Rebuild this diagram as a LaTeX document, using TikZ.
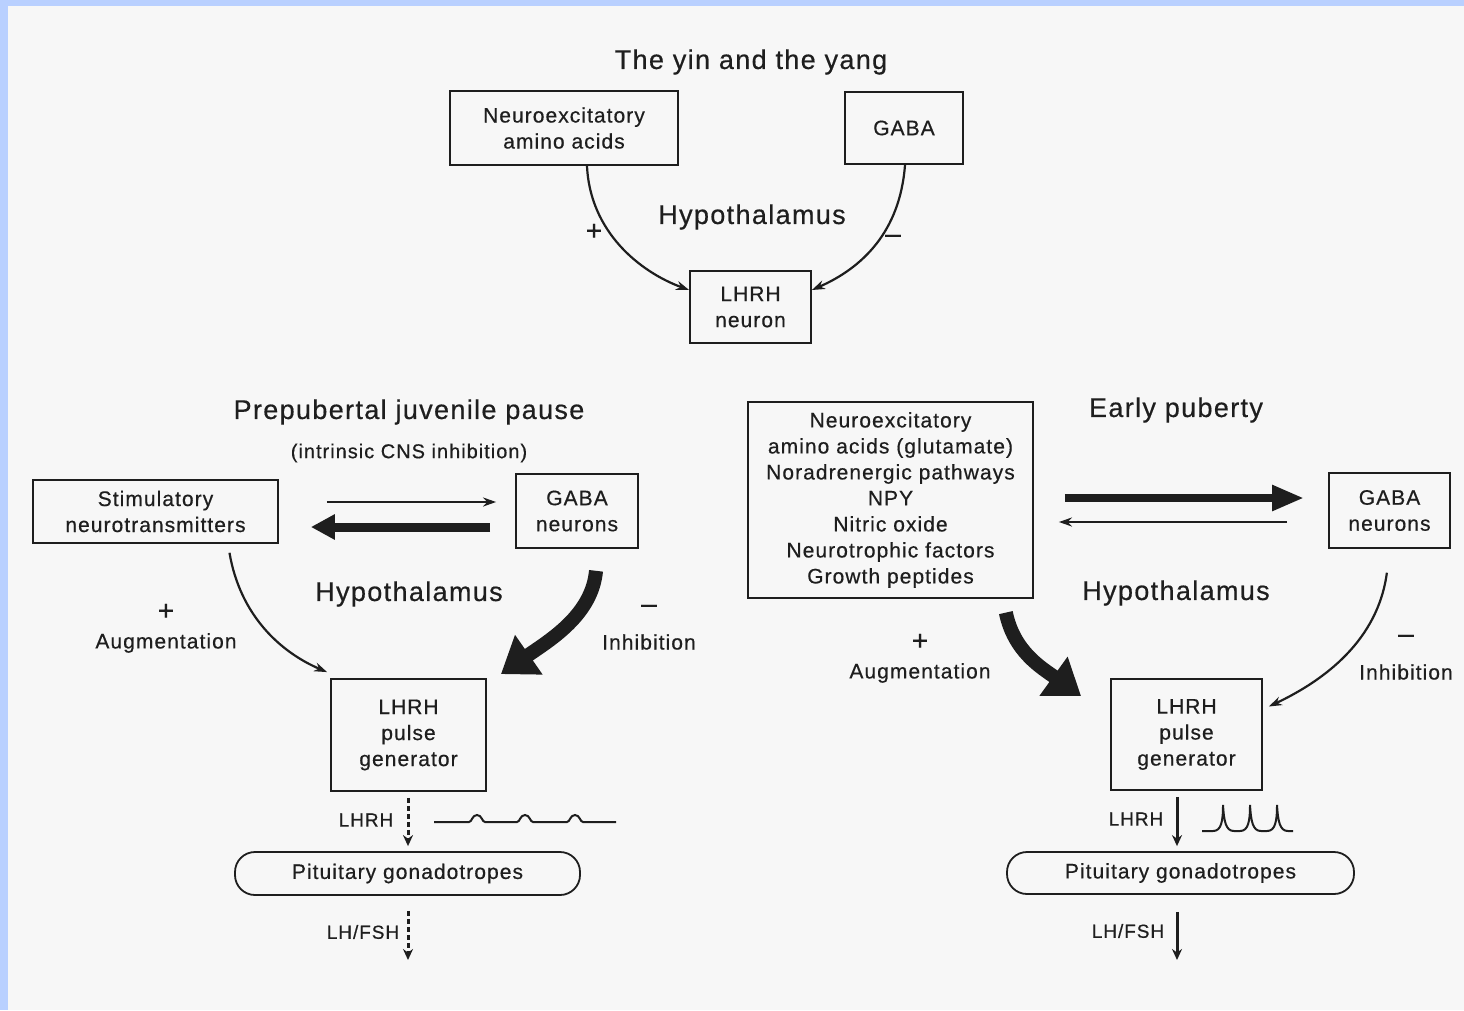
\documentclass[tikz,border=0pt]{standalone}
\usepackage{fontspec}
\setmainfont{Liberation Sans}[LetterSpace=5, FakeBold=0.5]
\usetikzlibrary{arrows.meta}
\definecolor{bgc}{HTML}{F7F7F7}
\definecolor{bluec}{HTML}{B9D0FF}
\definecolor{ink}{HTML}{1E1E1E}
\begin{document}
\begin{tikzpicture}[x=1pt,y=-1pt,
  every node/.style={text=ink},
  box/.style={draw=ink, line width=1.8pt, inner sep=0pt, align=center, font=\fontsize{21}{26}\selectfont},
  pill/.style={box, rounded corners=20pt},
  head/.style={font=\fontsize{27}{32}\selectfont, inner sep=0pt},
  lab/.style={font=\fontsize{21}{26}\selectfont, inner sep=0pt},
  sublab/.style={font=\fontsize{20}{24}\selectfont, inner sep=0pt},
  smalllab/.style={font=\fontsize{19}{23}\selectfont, inner sep=0pt},
  sign/.style={font=\fontsize{28}{30}\selectfont, inner sep=0pt},
  thinarrow/.style={draw=ink, line width=2.2pt, -{Stealth[length=13pt, width=9pt]}},
  dasharrow/.style={draw=ink, line width=3pt, dash pattern=on 5pt off 3pt, -{Stealth[length=11pt, width=10pt]}},
  solidarrow/.style={draw=ink, line width=3pt, -{Stealth[length=11pt, width=10pt]}},
  fatline/.style={draw=ink, line width=9pt, -{Triangle[length=24pt, width=24pt]}},
  fatlineR/.style={draw=ink, line width=8pt, -{Triangle[length=32pt, width=24pt]}},
  fatcurve/.style={draw=ink, line width=14pt, -{Triangle[length=34pt, width=46pt]}},
  wave/.style={draw=ink, line width=2pt}
]
\useasboundingbox (0,0) rectangle (1464,1010);
\fill[bgc] (0,0) rectangle (1464,1010);
\fill[bluec] (0,0) rectangle (8,1010);
\fill[bluec] (0,0) rectangle (1464,6);

% ---------- top: the yin and the yang ----------
\node[head] (title) at (751,62) {The yin and the yang};
\node[box, minimum width=228pt, minimum height=74pt] (neaa) at (564,128) {Neuroexcitatory\\amino acids};
\node[box, minimum width=118pt, minimum height=72pt] (gaba) at (904,128) {GABA};
\node[box, minimum width=121pt, minimum height=72pt] (lhrhn) at (750.5,307) {LHRH\\neuron};
\node[head] (hyp1) at (752,217) {Hypothalamus};
\node[sign] (plus1) at (594,232) {+};
\node[sign] (minus1) at (893,239) {–};
\draw[thinarrow] (neaa.south -| 587,0) .. controls (590,232) and (640,272) .. (lhrhn.west |- 0,290);
\draw[thinarrow] (gaba.south -| 905,0) .. controls (900,232) and (862,268) .. (lhrhn.east |- 0,290);

% ---------- left: prepubertal juvenile pause ----------
\node[head] (pjp) at (409,412) {Prepubertal juvenile pause};
\node[sublab] (icns) at (409,453) {(intrinsic CNS inhibition)};
\node[box, minimum width=245pt, minimum height=63pt] (stim) at (155.5,511.5) {Stimulatory\\neurotransmitters};
\node[box, minimum width=122pt, minimum height=74pt] (lgaba) at (577,511) {GABA\\neurons};
\draw[thinarrow, shorten <=48pt, shorten >=19pt] (stim.east |- 0,502) -- (lgaba.west |- 0,502);
\draw[fatline, shorten <=25pt, shorten >=32pt] (lgaba.west |- 0,527) -- (stim.east |- 0,527);
\node[head] (hyp2) at (409,594) {Hypothalamus};
\node[sign] (plus2) at (166,612) {+};
\node[lab] (aug2) at (166,643) {Augmentation};
\node[sign] (minus2) at (649,609) {–};
\node[lab] (inh2) at (649,642) {Inhibition};
\node[box, minimum width=155pt, minimum height=112pt] (lpg) at (408.5,735) {LHRH\\pulse\\generator};
\draw[thinarrow, shorten <=9pt] (stim.south -| 228,0) .. controls (240,615) and (280,652) .. ([xshift=-3pt,yshift=6pt]lpg.north west);
\draw[fatcurve, shorten <=22pt] (lgaba.south -| 598,0) .. controls (592,615) and (550,640) .. ([xshift=14pt,yshift=4pt]lpg.north east);
\node[pill, minimum width=345pt, minimum height=43pt] (lpit) at (407.5,873.5) {Pituitary gonadotropes};
\draw[dasharrow] (lpg.south -| 408,0) ++(0,6) -- ([yshift=5pt]lpit.north -| 408,0);
\node[smalllab] (lhrhl) at (366,820) {LHRH};
\coordinate (lend) at (408,960);
\draw[dasharrow] (lpit.south -| 408,0) ++(0,15) -- (lend);
\node[smalllab] (lhfshl) at (363,932) {LH/FSH};
\draw[wave] (434,822) -- (469,822) .. controls (472,822) and (472,815) .. (477,815) .. controls (482,815) and (482,822) .. (485,822)
  -- (517,822) .. controls (520,822) and (520,815) .. (525,815) .. controls (530,815) and (530,822) .. (533,822)
  -- (567,822) .. controls (570,822) and (570,815) .. (575,815) .. controls (580,815) and (580,822) .. (583,822) -- (616,822);

% ---------- right: early puberty ----------
\node[box, minimum width=285pt, minimum height=196pt] (bigbox) at (890.5,500) {Neuroexcitatory\\amino acids (glutamate)\\Noradrenergic pathways\\NPY\\Nitric oxide\\Neurotrophic factors\\Growth peptides};
\node[head] (ep) at (1176,410) {Early puberty};
\node[box, minimum width=121pt, minimum height=75pt] (rgaba) at (1389.5,510.5) {GABA\\neurons};
\draw[fatlineR, shorten <=31pt, shorten >=24pt] (bigbox.east |- 0,498) -- (rgaba.west |- 0,498);
\draw[thinarrow, shorten <=41pt, shorten >=25pt] (rgaba.west |- 0,522) -- (bigbox.east |- 0,522);
\node[head] (hyp3) at (1176,593) {Hypothalamus};
\node[sign] (plus3) at (920,642) {+};
\node[lab] (aug3) at (920,673) {Augmentation};
\node[sign] (minus3) at (1406,639) {–};
\node[lab] (inh3) at (1406,672) {Inhibition};
\node[box, minimum width=151pt, minimum height=111pt] (rpg) at (1186.5,734.5) {LHRH\\pulse\\generator};
\draw[fatcurve, shorten <=14pt] (bigbox.south -| 1003,0) .. controls (1014,652) and (1042,668) .. ([xshift=-29pt,yshift=-18pt]rpg.north west);
\draw[thinarrow, shorten <=24pt] (rgaba.south -| 1390,0) .. controls (1378,640) and (1325,680) .. ([xshift=6pt,yshift=28pt]rpg.east);
\node[pill, minimum width=347pt, minimum height=42pt] (rpit) at (1180.5,873) {Pituitary gonadotropes};
\draw[solidarrow] (rpg.south -| 1177,0) ++(0,6) -- ([yshift=5pt]rpit.north -| 1177,0);
\node[smalllab] (lhrhr) at (1136,819) {LHRH};
\coordinate (rend) at (1177,960);
\draw[solidarrow] (rpit.south -| 1177,0) ++(0,17) -- (rend);
\node[smalllab] (lhfshr) at (1128,931) {LH/FSH};
\draw[wave] (1202,831) -- (1213,831) .. controls (1221,831) and (1223,822) .. (1223,805) .. controls (1224,822) and (1226,831) .. (1234,831)
  -- (1240,831) .. controls (1248,831) and (1250,822) .. (1250,805) .. controls (1251,822) and (1253,831) .. (1261,831)
  -- (1267,831) .. controls (1275,831) and (1277,822) .. (1277,805) .. controls (1278,822) and (1280,831) .. (1288,831) -- (1293,831);
\end{tikzpicture}
\end{document}
